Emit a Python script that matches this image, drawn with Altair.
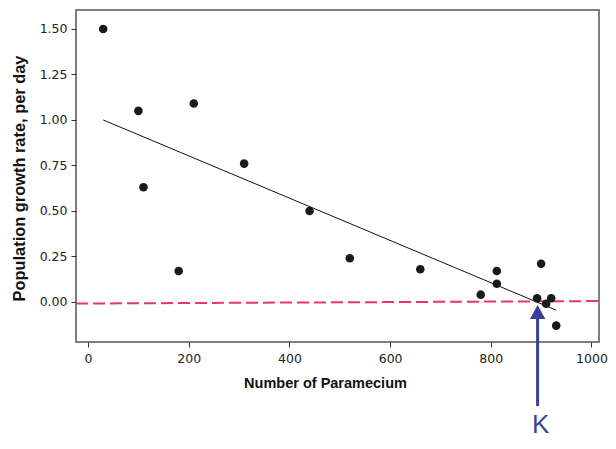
import altair as alt
import pandas as pd

# Scatter data (Number of Paramecium vs growth rate per day)
paramecium = [30, 100, 110, 180, 210, 310, 440, 520, 660, 780, 812, 812, 892, 900, 910, 920, 930]
growth_rate = [1.50, 1.05, 0.63, 0.17, 1.09, 0.76, 0.50, 0.24, 0.18, 0.04, 0.17, 0.10, 0.02, 0.21, -0.01, 0.02, -0.13]

# Fitted regression line end points
fit_x = [30, 930]
fit_y = [1.00, -0.045]

# Dashed zero-growth reference line
zero_x = [-24, 1015]
zero_y = [-0.009, 0.005]

# Carrying capacity annotation
k_x = [893]
k_label = ["K"]
arrow_y_start = [-0.572]
arrow_y_end = [-0.06]
arrow_tip_y = [-0.017]
k_label_y = [-0.72]

x_ticks = [0, 200, 400, 600, 800, 1000]
y_ticks = [0.0, 0.25, 0.5, 0.75, 1.0, 1.25, 1.5]

XDOM = [-24, 1015]
YDOM = [-0.22, 1.604]

pts = pd.DataFrame({"x": paramecium, "y": growth_rate})
fit = pd.DataFrame({"x": fit_x, "y": fit_y})
zero = pd.DataFrame({"x": zero_x, "y": zero_y})
ann = pd.DataFrame({"x": k_x, "y": arrow_y_start, "y2": arrow_y_end,
                    "tip": arrow_tip_y, "ly": k_label_y, "label": k_label})

xs = alt.Scale(domain=XDOM, nice=False, zero=False)
ys = alt.Scale(domain=YDOM, nice=False, zero=False)

x_axis = alt.Axis(values=x_ticks, format="d", title="Number of Paramecium",
                  grid=False, domain=False, tickSize=5, tickColor="#333",
                  labelFont="DejaVu Sans", labelFontSize=12.5,
                  labelColor="#222", labelPadding=5,
                  titleFont="Liberation Sans", titleFontSize=14.5,
                  titleFontWeight="bold", titleColor="#111",
                  titleX=249, titleY=45, titleAlign="center",
                  titleBaseline="alphabetic")
y_axis = alt.Axis(values=y_ticks, format=".2f", title="Population growth rate, per day",
                  grid=False, domain=False, tickSize=5, tickColor="#333",
                  labelFont="DejaVu Sans", labelFontSize=12.5,
                  labelColor="#222", labelPadding=4,
                  titleFont="Liberation Sans", titleFontSize=16.4,
                  titleFontWeight="bold", titleColor="#111",
                  titleX=-52, titleY=168, titleAlign="center",
                  titleBaseline="alphabetic", titleAngle=270)

points = alt.Chart(pts).mark_circle(size=74, color="#1a1a1a", opacity=1).encode(
    x=alt.X("x:Q", scale=xs, axis=x_axis),
    y=alt.Y("y:Q", scale=ys, axis=y_axis),
)

fit_line = alt.Chart(fit).mark_line(color="#111", strokeWidth=1).encode(
    x=alt.X("x:Q", scale=xs), y=alt.Y("y:Q", scale=ys))

zero_line = alt.Chart(zero).mark_line(color="#e8336e", strokeWidth=2,
                                      strokeDash=[12, 5], clip=True).encode(
    x=alt.X("x:Q", scale=xs), y=alt.Y("y:Q", scale=ys))

shaft = alt.Chart(ann).mark_rule(color="#3b3f9a", strokeWidth=3, clip=False).encode(
    x=alt.X("x:Q", scale=xs), y=alt.Y("y:Q", scale=ys), y2="y2:Q")

head = alt.Chart(ann).mark_point(shape="M0,0L-0.55,1L0.55,1Z", size=784, filled=True,
                                 color="#3b3f9a", opacity=1, clip=False).encode(
    x=alt.X("x:Q", scale=xs), y=alt.Y("tip:Q", scale=ys))

label = alt.Chart(ann).mark_text(font="Liberation Sans", fontSize=26, color="#3b3f9a",
                                 baseline="alphabetic", align="center", clip=False,
                                 dx=3).encode(
    x=alt.X("x:Q", scale=xs), y=alt.Y("ly:Q", scale=ys), text="label:N")

chart = alt.layer(zero_line, fit_line, points, shaft, head, label).properties(
    width=523, height=332,
    padding={"left": 68, "top": 2, "right": 9, "bottom": 97},
    autosize=alt.AutoSizeParams(type="none"),
).configure_view(stroke="#555", strokeWidth=1.5)

chart.save("out.html", embed_options={"renderer": "svg", "actions": False})
